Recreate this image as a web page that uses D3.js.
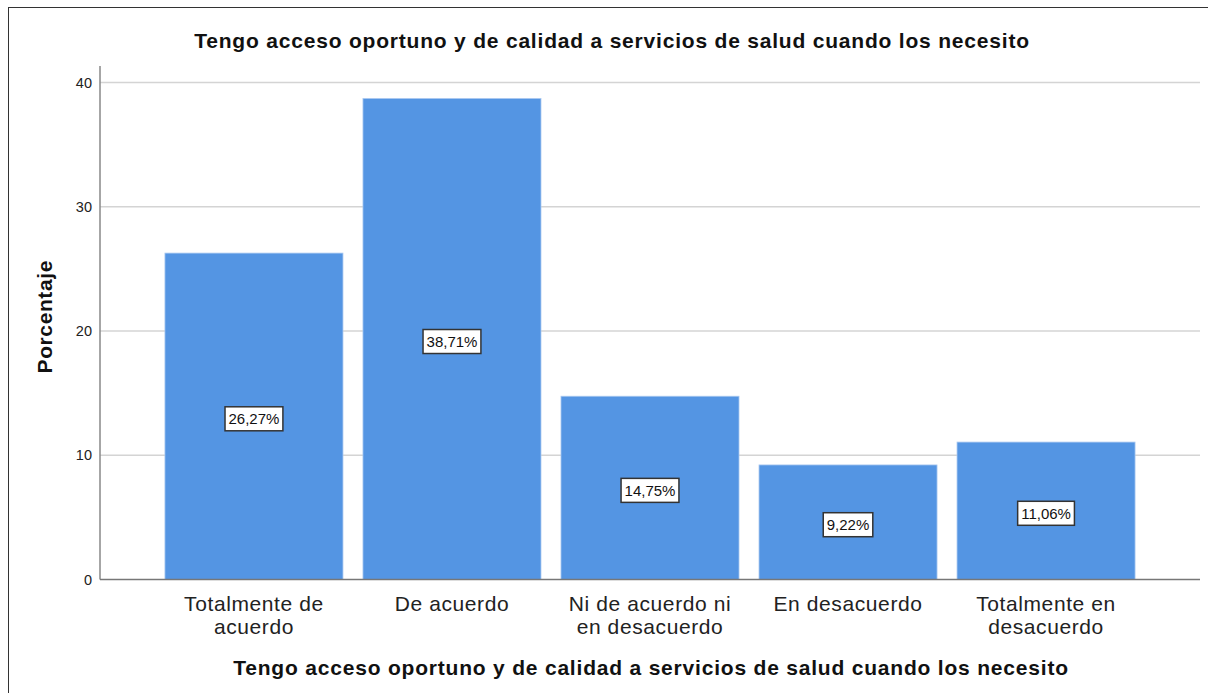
<!DOCTYPE html>
<html>
<head>
<meta charset="utf-8">
<script src="https://cdn.jsdelivr.net/npm/d3@7"></script>
<style>
  body { margin: 0; background: #fff; }
  svg { display: block; font-family: "Liberation Sans", Arial, sans-serif; }
</style>
</head>
<body>
<script>
const categories = [
  ["Totalmente de", "acuerdo"],
  ["De acuerdo"],
  ["Ni de acuerdo ni", "en desacuerdo"],
  ["En desacuerdo"],
  ["Totalmente en", "desacuerdo"]
];
const values = [26.27, 38.71, 14.75, 9.22, 11.06];
const yTicks = [0, 10, 20, 30, 40];
const title = "Tengo acceso oportuno y de calidad a servicios de salud cuando los necesito";

const width = 1208, height = 693;
const margin = {top: 66, right: 8, bottom: 113, left: 100};

const svg = d3.select("body").append("svg")
  .attr("width", width)
  .attr("height", height);

// outer frame (cut at right/bottom like the export)
svg.append("rect")
  .attr("x", 8.5).attr("y", 7.5)
  .attr("width", width + 10).attr("height", height + 10)
  .attr("fill", "none").attr("stroke", "#333");

const keys = categories.map((c, i) => i);

const x = d3.scaleBand()
  .domain(keys)
  .range([margin.left, width - margin.right])
  .paddingInner(0.101)
  .paddingOuter(0.328);

const y = d3.scaleLinear()
  .domain([0, 40])
  .range([579.5, 82.5]);

// gridlines
svg.append("g")
  .selectAll("line")
  .data(yTicks.filter(d => d > 0))
  .join("line")
  .attr("x1", margin.left).attr("x2", width - margin.right)
  .attr("y1", d => y(d)).attr("y2", d => y(d))
  .attr("stroke", "#d4d4d4").attr("stroke-width", 1.5);

// bars
svg.append("g")
  .selectAll("rect")
  .data(values)
  .join("rect")
  .attr("x", (d, i) => x(i))
  .attr("y", d => y(d))
  .attr("width", x.bandwidth())
  .attr("height", d => y(0) - y(d))
  .attr("fill", "#5495e3")
  .attr("stroke", "#a9c8f0")
  .attr("stroke-width", 0.8);

// y axis
const yAxis = svg.append("g")
  .attr("transform", `translate(${margin.left},0)`)
  .call(d3.axisLeft(y).tickValues(yTicks).tickSize(0).tickPadding(8));
yAxis.select(".domain").remove();
yAxis.selectAll("text").attr("font-size", 14.5).attr("fill", "#222")
  .attr("font-family", "Liberation Sans, Arial, sans-serif");

svg.append("line")
  .attr("x1", margin.left).attr("x2", margin.left)
  .attr("y1", margin.top).attr("y2", y(0))
  .attr("stroke", "#888").attr("stroke-width", 1.5);

// x axis
svg.append("line")
  .attr("x1", margin.left).attr("x2", width - margin.right)
  .attr("y1", y(0)).attr("y2", y(0))
  .attr("stroke", "#777").attr("stroke-width", 1.5);

const xLab = svg.append("g")
  .selectAll("text")
  .data(categories)
  .join("text")
  .attr("x", (d, i) => x(i) + x.bandwidth() / 2)
  .attr("y", 611)
  .attr("text-anchor", "middle")
  .attr("font-size", 21)
  .attr("letter-spacing", 0.6)
  .attr("fill", "#222");
xLab.selectAll("tspan")
  .data(d => d)
  .join("tspan")
  .attr("x", function () { return this.parentNode.getAttribute("x"); })
  .attr("dy", (d, i) => i === 0 ? 0 : 23)
  .text(d => d);

// value labels
const lab = svg.append("g")
  .selectAll("g")
  .data(values)
  .join("g")
  .attr("transform", (d, i) => `translate(${x(i) + x.bandwidth() / 2},${y(d / 2) + 2.5})`);

lab.append("text")
  .attr("text-anchor", "middle")
  .attr("dy", "0.36em")
  .attr("font-size", 15)
  .attr("fill", "#111")
  .text(d => d.toFixed(2).replace(".", ",") + "%");

lab.each(function () {
  const g = d3.select(this);
  const b = g.select("text").node().getBBox();
  g.insert("rect", "text")
    .attr("x", b.x - 3.5).attr("y", -12)
    .attr("width", b.width + 7).attr("height", 24)
    .attr("fill", "#fff").attr("stroke", "#333").attr("stroke-width", 1.5);
});

// titles
svg.append("text")
  .attr("x", 612).attr("y", 48)
  .attr("text-anchor", "middle")
  .attr("font-size", 21).attr("font-weight", "bold")
  .attr("letter-spacing", 0.8)
  .attr("fill", "#111")
  .text(title);

svg.append("text")
  .attr("x", 651).attr("y", 675)
  .attr("text-anchor", "middle")
  .attr("font-size", 21).attr("font-weight", "bold")
  .attr("letter-spacing", 0.8)
  .attr("fill", "#111")
  .text(title);

svg.append("text")
  .attr("transform", `translate(52,${(margin.top + y(0)) / 2 - 6}) rotate(-90)`)
  .attr("text-anchor", "middle")
  .attr("font-size", 21).attr("font-weight", "bold")
  .attr("letter-spacing", 0.6)
  .attr("fill", "#111")
  .text("Porcentaje");
</script>
</body>
</html>
